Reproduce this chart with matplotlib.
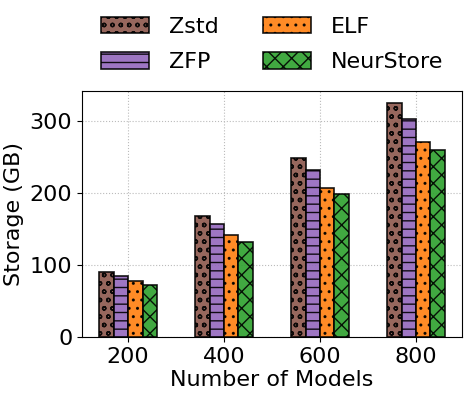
import numpy as np
from matplotlib import pyplot as plt

models = ['200', '400', '600', '800']
zstd = [91, 168, 249, 326]
zfp = [85, 157, 232, 303]
elf = [78, 142, 208, 271]
neur = [73, 133, 199, 260]

names = ['Zstd', 'ZFP', 'ELF', 'NeurStore']
colors = ['#8c564b', '#9467bd', '#ff7f0e', '#2ca02c']
hatches = ['oo', '--', '..', 'xx']

fig = plt.figure(figsize=(4.69, 3.99), dpi=100)
ax = fig.add_axes([0.175, 0.155, 0.81, 0.617])

x = np.arange(len(models))
w = 0.15
bars = []
for i, vals in enumerate([zstd, zfp, elf, neur]):
    b = ax.bar(x + (i - 1.5) * w, vals, w, color=colors[i], edgecolor='black',
               hatch=hatches[i], linewidth=1.2, alpha=0.9, label=names[i], zorder=3)
    bars.append(b)

ax.set_xticks(x)
ax.set_xticklabels(models, fontsize=16)
ax.tick_params(axis='y', labelsize=16)
ax.set_yticks([0, 100, 200, 300])
ax.set_xlabel('Number of Models', fontsize=16, labelpad=2)
ax.set_ylabel('Storage (GB)', fontsize=16)
ax.grid(True, linestyle=':', linewidth=0.8, color='#bbbbbb', zorder=0)

fig.legend(handles=bars, labels=names, ncol=2,
           loc='upper center', bbox_to_anchor=(0.58, 1.008), frameon=False,
           fontsize=16, handlelength=2.15, handleheight=0.77, handletextpad=0.9,
           columnspacing=2.0, labelspacing=0.68)

plt.savefig('out.png', dpi=100)
